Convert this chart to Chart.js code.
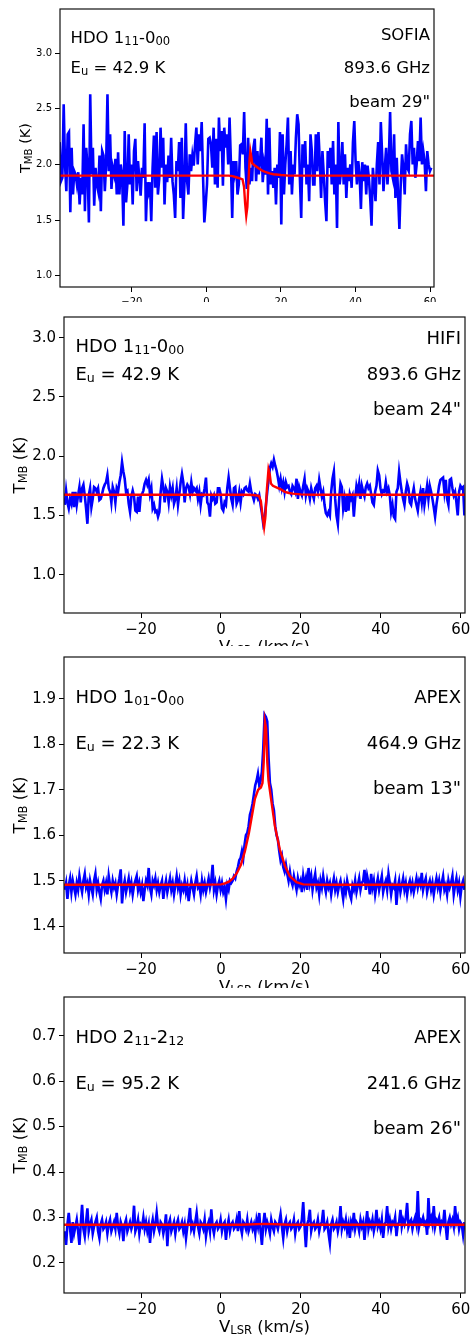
<!DOCTYPE html>
<html>
<head>
<meta charset="utf-8">
<script src="https://cdn.jsdelivr.net/npm/chart.js"></script>
<style>
  body { margin: 0; background: #fff; }
  #wrap { position: relative; width: 474px; height: 1335px; overflow: hidden; }
  canvas { position: absolute; left: 0; background: #fff; }
</style>
</head>
<body>
<div id="wrap">
  <canvas id="p1" width="474" height="302" style="top:0px"></canvas>
  <canvas id="p2" width="474" height="344" style="top:302px"></canvas>
  <canvas id="p3" width="474" height="342" style="top:646px"></canvas>
  <canvas id="p4" width="474" height="347" style="top:988px"></canvas>
</div>
<script>
// ---- data ----
const velocityRange = [-39.27, 61.07];
const velocityTicks = [-20, 0, 20, 40, 60];

const lineNames = ["HDO 1_{11}-0_{00}", "HDO 1_{11}-0_{00}", "HDO 1_{01}-0_{00}", "HDO 2_{11}-2_{12}"];
const upperEnergies = ["E_{u} = 42.9 K", "E_{u} = 42.9 K", "E_{u} = 22.3 K", "E_{u} = 95.2 K"];
const telescopes = ["SOFIA", "HIFI", "APEX", "APEX"];
const frequencies = ["893.6 GHz", "893.6 GHz", "464.9 GHz", "241.6 GHz"];
const beams = ['beam 29"', 'beam 24"', 'beam 13"', 'beam 26"'];

const yRanges = [[0.90, 3.395], [0.677, 3.175], [1.341, 1.992], [0.134, 0.785]];
const yTicks = [
  [1.0, 1.5, 2.0, 2.5, 3.0],
  [1.0, 1.5, 2.0, 2.5, 3.0],
  [1.4, 1.5, 1.6, 1.7, 1.8, 1.9],
  [0.2, 0.3, 0.4, 0.5, 0.6, 0.7]
];

// spectra: first channel (km/s), channel width (km/s), T_MB (K) per channel
const sofiaStart = -39.35, sofiaStep = 0.356;
const sofiaTmb = [
  2.20,1.85,1.88,2.54,2.00,1.76,2.27,2.29,1.57,2.15,
  1.73,1.94,1.91,1.82,1.93,1.64,1.88,1.73,2.36,1.58,
  2.15,1.97,1.48,2.63,1.91,2.15,1.63,1.97,1.82,1.76,
  2.08,1.58,2.12,2.08,1.76,2.00,2.63,1.94,2.27,1.78,
  1.97,1.91,2.05,1.73,2.11,1.73,2.00,1.91,1.45,2.30,
  1.66,1.82,2.27,1.82,2.00,1.64,2.12,2.23,1.76,2.03,
  1.88,1.72,1.97,1.88,2.37,1.49,1.84,1.76,1.84,1.49,
  1.97,2.26,1.79,2.29,1.73,1.87,2.33,1.97,2.24,1.64,
  2.00,1.84,2.08,1.88,2.24,1.85,1.73,1.52,2.03,1.94,
  2.20,1.70,2.24,1.51,1.82,2.37,1.85,
  1.73,2.09,1.94,2.08,1.99,2.18,2.33,2.00,2.27,2.12,
  2.38,1.90,1.48,1.64,1.82,2.23,2.24,2.18,1.97,2.33,
  1.82,2.23,1.79,2.42,2.12,2.30,1.81,2.33,2.15,2.27,
  2.00,2.42,2.03,1.52,2.03,1.93,2.03,1.73,1.82,2.17,
  2.18,2.09,2.47,1.97,1.78,2.24,1.82,1.97,1.85,2.15,
  2.23,1.85,2.12,1.91,2.03,2.24,1.84,2.00,1.91,2.41,
  1.73,2.33,1.82,1.94,1.79,1.97,1.64,2.00,1.88,2.29,
  1.46,2.27,1.73,2.00,2.18,2.42,1.82,2.12,1.73,2.00,
  1.91,2.24,2.45,2.36,1.88,1.52,2.18,1.97,2.21,1.82,
  2.00,1.67,2.27,2.12,1.82,
  1.82,2.27,1.94,2.29,2.03,1.70,2.12,1.91,1.67,1.49,
  2.12,1.97,2.15,1.82,2.21,1.73,2.00,1.43,2.38,1.82,
  1.94,2.20,1.82,2.09,1.70,1.97,1.85,2.00,1.79,2.20,
  2.39,2.03,1.82,2.03,1.91,1.60,2.02,1.85,2.00,1.73,
  1.99,1.88,1.70,1.45,1.97,1.82,1.67,2.00,2.20,1.82,
  2.38,2.09,1.76,1.97,2.15,1.82,2.03,2.47,1.94,1.88,
  2.27,1.70,2.06,1.73,1.42,1.82,2.09,1.97,1.73,2.18,
  1.97,1.94,2.27,2.39,2.00,2.15,1.88,2.00,2.21,2.03,
  2.42,2.00,2.12,2.03,1.76,2.12,2.00,1.94,1.97
];
const sofiaModelV = [-39.3, 6.0, 7.0, 8.0, 9.0, 9.7, 10.1, 10.4, 10.7, 11.0, 11.3, 11.6, 11.8, 12.0, 12.3, 13.0, 14.0, 15.0, 16.0, 17.0, 18.0, 20.0, 22.0, 61.1];
const sofiaModelT = [1.90, 1.90, 1.895, 1.885, 1.875, 1.865, 1.80, 1.65, 1.54, 1.62, 1.85, 2.05, 2.12, 2.08, 2.01, 1.99, 1.965, 1.945, 1.93, 1.92, 1.912, 1.905, 1.90, 1.90];

const hifiStart = -39.08, hifiStep = 1 / 3;
const hifiTmb = [
  1.59,1.71,1.61,1.56,1.64,1.60,1.70,1.57,1.70,1.59,
  1.67,1.74,1.61,1.73,1.76,1.67,1.56,1.43,1.67,1.73,
  1.57,1.64,1.74,1.73,1.70,1.73,1.63,1.64,1.68,1.73,
  1.76,1.78,1.84,1.73,1.70,1.61,1.74,1.70,1.61,1.73,
  1.70,1.78,1.84,1.95,1.87,1.81,1.70,1.71,1.60,1.53,
  1.66,1.71,1.66,1.54,1.53,1.66,1.53,1.67,1.68,1.71,
  1.77,1.80,1.76,1.80,1.68,1.73,1.56,1.59,1.53,1.54,
  1.49,1.53,1.70,1.81,1.74,1.61,1.73,1.70,1.61,1.74,
  1.67,1.73,1.60,1.64,1.73,1.59,1.68,1.78,1.85,1.78,
  1.61,1.73,1.76,1.74,1.68,1.78,1.70,1.73,1.71,
  1.73,1.64,1.70,1.59,1.68,1.67,1.73,1.82,1.61,1.59,
  1.49,1.67,1.64,1.67,1.60,1.61,1.73,1.73,1.68,1.56,
  1.54,1.61,1.59,1.73,1.82,1.73,1.64,1.59,1.73,1.74,
  1.60,1.63,1.70,1.61,1.70,1.68,1.73,1.74,1.71,1.70,
  1.77,1.70,1.67,1.63,1.68,1.67,1.64,1.67,1.59,1.52,
  1.43,1.47,1.59,1.70,1.80,1.90,1.94,1.91,1.97,1.92,
  1.88,1.82,1.75,1.81,1.73,1.78,1.70,1.78,1.74,1.75,
  1.70,1.68,1.75,1.73,1.70,1.81,1.64,1.74,1.70,1.67,
  1.75,1.81,1.67,1.73,1.70,1.64,1.73,1.68,1.64,1.73,
  1.75,1.70,1.80,1.73,1.66,1.70,1.59,1.52,1.50,1.53,
  1.50,1.70,1.81,1.87,1.64,1.50,1.43,1.64,1.77,1.74,
  1.56,1.64,1.53,1.67,1.54,1.68,1.64,1.67,1.49,1.64,
  1.75,1.70,1.77,1.64,1.75,1.70,1.66,1.74,1.77,1.73,
  1.75,1.68,1.61,1.59,1.70,1.75,1.88,1.84,1.73,1.68,
  1.71,1.70,1.78,1.70,1.73,1.67,1.53,1.59,1.49,1.47,
  1.70,1.73,1.87,1.78,1.70,1.64,1.59,1.70,1.77,1.73,
  1.61,1.59,1.67,1.73,1.64,1.59,1.54,1.64,1.70,1.61,
  1.73,1.59,1.67,1.75,1.64,1.75,1.70,1.64,1.57,1.49,
  1.59,1.67,1.75,1.80,1.81,1.82,1.70,1.80,1.64,1.59,
  1.80,1.81,1.73,1.67,1.70,1.61,1.50,1.70,1.75,1.73,
  1.74,1.50
];
const hifiModelV = [-39.3, 6.0, 8.0, 9.5, 10.0, 10.4, 10.8, 11.1, 11.5, 11.9, 12.2, 12.5, 13.0, 14.0, 15.0, 16.0, 17.0, 18.0, 20.0, 23.0, 61.1];
const hifiModelT = [1.675, 1.675, 1.673, 1.665, 1.62, 1.50, 1.40, 1.48, 1.72, 1.89, 1.85, 1.77, 1.75, 1.735, 1.72, 1.70, 1.69, 1.684, 1.678, 1.675, 1.675];

const apex465Start = -39.08, apex465Step = 1 / 3;
const apex465Tmb = [
  1.48,1.495,1.46,1.49,1.505,1.475,1.50,1.485,1.47,1.495,
  1.48,1.51,1.49,1.475,1.50,1.515,1.485,1.495,1.47,1.50,
  1.485,1.47,1.50,1.515,1.48,1.495,1.475,1.46,1.49,1.50,
  1.48,1.495,1.47,1.51,1.49,1.475,1.50,1.485,1.495,1.47,
  1.49,1.505,1.525,1.45,1.485,1.50,1.475,1.49,1.505,1.48,
  1.495,1.47,1.49,1.50,1.51,1.48,1.495,1.475,1.49,1.455,
  1.48,1.50,1.49,1.528,1.485,1.47,1.50,1.49,1.505,1.48,
  1.495,1.475,1.49,1.50,1.46,1.485,1.50,1.475,1.49,1.505,
  1.48,1.495,1.47,1.49,1.51,1.485,1.50,1.47,1.49,1.48,
  1.50,1.475,1.49,1.455,1.48,1.50,1.485,1.47,1.495,1.51,
  1.485,1.49,1.47,1.50,1.48,1.495,1.475,1.49,1.505,1.485,
  1.50,1.535,1.48,1.495,1.47,1.49,1.50,1.48,1.495,1.475,
  1.485,1.46,1.49,1.48,1.50,1.495,1.50,1.51,1.505,1.52,
  1.53,1.545,1.55,1.565,1.55,1.58,1.60,1.605,1.62,1.645,
  1.655,1.67,1.69,1.71,1.72,1.735,1.71,1.72,1.74,1.79,
  1.865,1.86,1.85,1.77,1.715,1.70,1.67,1.655,1.62,1.60,
  1.59,1.565,1.545,1.555,1.53,1.52,1.535,1.515,1.50,1.52,
  1.50,1.49,1.51,1.495,1.48,1.505,1.49,1.50,1.475,1.51,
  1.49,1.505,1.48,1.528,1.495,1.51,1.48,1.50,1.515,1.485,
  1.495,1.47,1.50,1.485,1.51,1.49,1.475,1.50,1.485,1.495,
  1.47,1.49,1.505,1.48,1.495,1.475,1.49,1.50,1.48,1.46,
  1.49,1.475,1.50,1.485,1.47,1.46,1.49,1.48,1.50,1.475,
  1.49,1.505,1.48,1.495,1.50,1.524,1.48,1.51,1.495,1.47,
  1.515,1.485,1.50,1.47,1.49,1.505,1.48,1.495,1.51,1.475,
  1.49,1.50,1.48,1.515,1.495,1.47,1.49,1.485,1.50,1.447,
  1.485,1.50,1.475,1.49,1.505,1.48,1.495,1.47,1.49,1.50,
  1.48,1.495,1.475,1.49,1.505,1.485,1.50,1.49,1.517,1.48,
  1.495,1.505,1.475,1.49,1.50,1.48,1.495,1.47,1.49,1.505,
  1.485,1.50,1.475,1.495,1.51,1.48,1.49,1.47,1.50,1.485,
  1.495,1.51,1.47,1.49,1.505,1.48,1.495,1.465,1.49,1.50,
  1.48
];
const apex465ModelV = [-39.3, -5, 0, 1, 2, 3, 4, 5, 6, 7, 7.7, 8.5, 9.3, 10.0, 10.4, 10.7, 11.0, 11.3, 11.6, 11.9, 12.7, 13.5, 14.75, 16.0, 17.25, 18.9, 20.6, 25, 61.1];
const apex465ModelT = [1.491, 1.491, 1.492, 1.494, 1.498, 1.505, 1.517, 1.535, 1.565, 1.605, 1.64, 1.68, 1.70, 1.705, 1.715, 1.76, 1.85, 1.835, 1.76, 1.72, 1.67, 1.62, 1.568, 1.533, 1.51, 1.497, 1.492, 1.491, 1.491];

const apex242Start = -39.08, apex242Step = 1 / 3;
const apex242Tmb = [
  0.27,0.24,0.285,0.31,0.275,0.244,0.29,0.265,0.28,0.295,
  0.27,0.24,0.285,0.328,0.275,0.259,0.29,0.32,0.27,0.285,
  0.295,0.265,0.28,0.29,0.30,0.27,0.255,0.285,0.295,0.275,
  0.28,0.29,0.265,0.285,0.295,0.27,0.28,0.29,0.275,0.31,
  0.28,0.265,0.29,0.28,0.248,0.285,0.295,0.27,0.28,0.29,
  0.275,0.285,0.326,0.27,0.28,0.295,0.265,0.285,0.28,0.30,
  0.275,0.29,0.27,0.285,0.244,0.28,0.295,0.27,0.285,0.31,
  0.28,0.27,0.29,0.285,0.265,0.28,0.307,0.237,0.285,0.295,
  0.27,0.28,0.29,0.265,0.285,0.295,0.275,0.28,0.29,0.27,
  0.285,0.255,0.28,0.295,0.321,0.275,0.285,0.27,0.29,0.31,
  0.28,0.265,0.29,0.285,0.275,0.295,0.259,0.28,0.29,0.27,
  0.318,0.28,0.265,0.285,0.29,0.275,0.28,0.295,0.27,0.285,
  0.29,0.251,0.28,0.295,0.27,0.285,0.29,0.275,0.28,0.295,
  0.27,0.314,0.28,0.265,0.29,0.285,0.275,0.295,0.27,0.28,
  0.29,0.275,0.285,0.265,0.295,0.28,0.31,0.27,0.24,0.285,
  0.31,0.275,0.29,0.28,0.265,0.295,0.28,0.27,0.29,0.285,
  0.275,0.29,0.307,0.28,0.255,0.285,0.295,0.27,0.285,0.29,
  0.275,0.28,0.295,0.265,0.285,0.29,0.275,0.28,0.295,0.334,
  0.28,0.235,0.285,0.295,0.317,0.27,0.285,0.29,0.275,0.28,
  0.295,0.27,0.285,0.29,0.317,0.275,0.28,0.29,0.265,0.244,
  0.285,0.295,0.275,0.28,0.29,0.27,0.285,0.325,0.275,0.29,
  0.28,0.295,0.27,0.285,0.255,0.29,0.28,0.31,0.275,0.29,
  0.285,0.27,0.295,0.28,0.29,0.251,0.285,0.314,0.275,0.29,
  0.28,0.295,0.27,0.285,0.317,0.28,0.29,0.275,0.295,0.255,
  0.285,0.29,0.325,0.28,0.295,0.275,0.29,0.285,0.30,0.259,
  0.285,0.29,0.317,0.28,0.295,0.285,0.30,0.332,0.28,0.29,
  0.295,0.275,0.29,0.30,0.285,0.358,0.28,0.295,0.29,0.30,
  0.285,0.29,0.262,0.343,0.29,0.30,0.285,0.325,0.28,0.295,
  0.29,0.30,0.275,0.29,0.285,0.317,0.28,0.251,0.29,0.30,
  0.285,0.295,0.28,0.325,0.29,0.30,0.275,0.29,0.285,0.262,
  0.29
];
const apex242ModelV = [-39.3, 5, 11, 17, 61.1];
const apex242ModelT = [0.284, 0.284, 0.286, 0.284, 0.284];

// ---- helpers ----
Chart.defaults.font.family = "'DejaVu Sans'";
Chart.defaults.color = "#000";

const channels = (start, step, t) => t.map((y, i) => ({ x: start + i * step, y }));
const pairs = (v, t) => v.map((x, i) => ({ x, y: t[i] }));
const fmtVel = (v) => (v < 0 ? "\u2212" + Math.abs(v) : String(v));

// split "HDO 1_{11}-0_{00}" into normal / subscript runs and draw it
function drawRich(ctx, str, x, y, size, align) {
  const runs = [];
  str.split(/(_\{[^}]*\})/).forEach((s) => {
    if (!s) return;
    const m = s.match(/^_\{(.*)\}$/);
    runs.push(m ? [m[1], true] : [s, false]);
  });
  const font = (sub) => (sub ? size * 0.7 : size) + "px 'DejaVu Sans'";
  let w = 0;
  runs.forEach(([t, sub]) => { ctx.font = font(sub); w += ctx.measureText(t).width; });
  let cx = align === "right" ? x - w : align === "center" ? x - w / 2 : x;
  ctx.textAlign = "left";
  ctx.textBaseline = "alphabetic";
  runs.forEach(([t, sub]) => {
    ctx.font = font(sub);
    ctx.fillText(t, cx, sub ? y + size * 0.13 : y);
    cx += ctx.measureText(t).width;
  });
}

// layout of each panel (canvas pixels)
const layouts = {
  p1: { i: 0, top: 9, right: 40, yAxisW: 60, xAxisH: 15, tick: 10, text: 16.5, label: 14.5,
        dxL: 10.5, dxR: 4, rowsL: [34, 64], rowsR: [31, 64, 98], yTitle: 30, xTitle: 38, tickPad: 4 },
  p2: { i: 1, top: 15, right: 9, yAxisW: 64, xAxisH: 33, tick: 15, text: 18, label: 16.5,
        dxL: 11.5, dxR: 4, rowsL: [35, 63], rowsR: [27, 63, 98], yTitle: 39.5, xTitle: 38.5, tickPad: 3 },
  p3: { i: 2, top: 11, right: 9, yAxisW: 64, xAxisH: 35, tick: 15, text: 18, label: 16.5,
        dxL: 11.5, dxR: 4, rowsL: [45.5, 92], rowsR: [46, 92, 137], yTitle: 39.5, xTitle: 38.5, tickPad: 3 },
  p4: { i: 3, top: 9, right: 9, yAxisW: 64, xAxisH: 42, tick: 15, text: 18, label: 16.5,
        dxL: 11.5, dxR: 4, rowsL: [45.5, 92], rowsR: [46, 92, 137], yTitle: 39.5, xTitle: 38.5, tickPad: 3 }
};

const decor = {
  id: "decor",
  afterDraw(chart) {
    const L = layouts[chart.canvas.id];
    const { ctx, chartArea: a } = chart;
    ctx.save();
    ctx.strokeStyle = "#111";
    ctx.lineWidth = 1.2;
    ctx.strokeRect(a.left, a.top, a.right - a.left, a.bottom - a.top);
    ctx.fillStyle = "#000";
    drawRich(ctx, lineNames[L.i], a.left + L.dxL, a.top + L.rowsL[0], L.text, "left");
    drawRich(ctx, upperEnergies[L.i], a.left + L.dxL, a.top + L.rowsL[1], L.text, "left");
    drawRich(ctx, telescopes[L.i], a.right - L.dxR, a.top + L.rowsR[0], L.text, "right");
    drawRich(ctx, frequencies[L.i], a.right - L.dxR, a.top + L.rowsR[1], L.text, "right");
    drawRich(ctx, beams[L.i], a.right - L.dxR, a.top + L.rowsR[2], L.text, "right");
    drawRich(ctx, "V_{LSR} (km/s)", (a.left + a.right) / 2, a.bottom + L.xTitle, L.label, "center");
    ctx.translate(a.left - L.yTitle, (a.top + a.bottom) / 2);
    ctx.rotate(-Math.PI / 2);
    drawRich(ctx, "T_{MB} (K)", 0, 0, L.label, "center");
    ctx.restore();
  }
};

function makePanel(id, obs, model) {
  const L = layouts[id];
  const [ymin, ymax] = yRanges[L.i];
  const ticks = yTicks[L.i];
  new Chart(document.getElementById(id), {
    type: "line",
    data: {
      datasets: [
        // higher order is drawn first, so the model line sits on top of the spectrum
        { data: obs, order: 2, borderColor: "#0000ff", borderWidth: 2.6, pointRadius: 0, tension: 0, clip: 0 },
        { data: model, order: 1, borderColor: "#ff0000", borderWidth: 2.4, pointRadius: 0, tension: 0, clip: 0 }
      ]
    },
    options: {
      responsive: false,
      animation: false,
      devicePixelRatio: 1,
      layout: { padding: { top: L.top, right: L.right, left: 0, bottom: 0 } },
      plugins: { legend: { display: false }, tooltip: { enabled: false } },
      scales: {
        x: {
          type: "linear",
          min: velocityRange[0],
          max: velocityRange[1],
          afterFit(s) { s.height = L.xAxisH; s.paddingLeft = 0; s.paddingRight = 0; },
          afterBuildTicks(s) { s.ticks = velocityTicks.map((value) => ({ value })); },
          grid: { drawOnChartArea: false, tickLength: 5, color: "#000", lineWidth: 1 },
          border: { display: false },
          ticks: { font: { size: L.tick }, color: "#000", padding: L.tickPad, maxRotation: 0, autoSkip: false, callback: fmtVel }
        },
        y: {
          min: ymin,
          max: ymax,
          afterFit(s) { s.width = L.yAxisW; s.paddingTop = 0; s.paddingBottom = 0; },
          afterBuildTicks(s) { s.ticks = ticks.map((value) => ({ value })); },
          grid: { drawOnChartArea: false, tickLength: 5, color: "#000", lineWidth: 1 },
          border: { display: false },
          ticks: { font: { size: L.tick }, color: "#000", padding: 3, autoSkip: false, callback: (v) => v.toFixed(1) }
        }
      }
    },
    plugins: [decor]
  });
}

makePanel("p1", channels(sofiaStart, sofiaStep, sofiaTmb), pairs(sofiaModelV, sofiaModelT));
makePanel("p2", channels(hifiStart, hifiStep, hifiTmb), pairs(hifiModelV, hifiModelT));
makePanel("p3", channels(apex465Start, apex465Step, apex465Tmb), pairs(apex465ModelV, apex465ModelT));
makePanel("p4", channels(apex242Start, apex242Step, apex242Tmb), pairs(apex242ModelV, apex242ModelT));
</script>
</body>
</html>
